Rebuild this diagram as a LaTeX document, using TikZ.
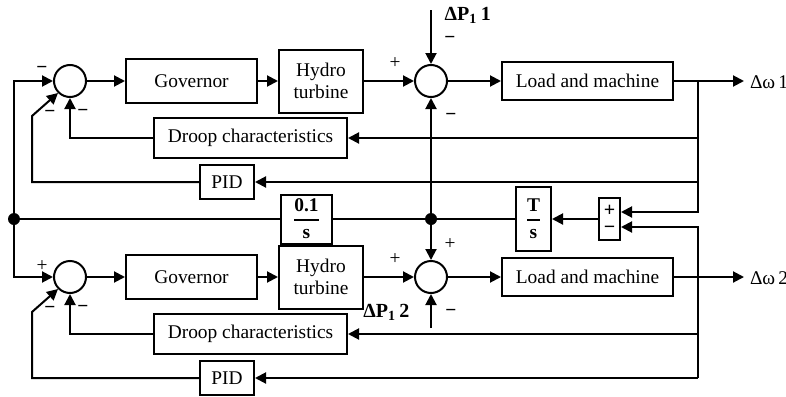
\documentclass[tikz,border=0pt]{standalone}
\usepackage{amsmath}
\usepackage{fontspec}
\setmainfont{Liberation Serif}
\usetikzlibrary{arrows.meta}
\newcommand{\mn}{\textbf{−}}
\begin{document}
\begin{tikzpicture}[x=0.5pt, y=-0.5pt, line width=1pt,
    font=\fontsize{9.7}{11}\selectfont,
    myblock/.style={draw, rectangle, inner sep=0pt, align=center},
    mysum/.style={draw, circle, minimum size=16pt, inner sep=0pt},
    myarrow/.style={-{Triangle[length=5.5pt,width=5.5pt]}},
    mysign/.style={inner sep=0pt}]
    \useasboundingbox (0,0) rectangle (786,396);

    % 绘制两个区域
    \foreach \n/\dy/\s in {1/0/\mn, 2/196/+} {
        \node[mysum] (sumA\n) at (70, 81+\dy) {};
        \node[myblock, minimum width=65.5pt, minimum height=22pt] (gov\n) at (191.5, 81+\dy) {Governor};
        \node[myblock, minimum width=42pt, minimum height=31.5pt] (hydro\n) at (321, 81+\dy) {Hydro\\turbine};
        \node[mysum] (sumB\n) at (431, 81+\dy) {};
        \node[myblock, minimum width=85.5pt, minimum height=19pt] (load\n) at (587.5, 81+\dy) {Load and machine};
        \node[myblock, minimum width=96.5pt, minimum height=20pt] (droop\n) at (250.5, 138+\dy) {Droop characteristics};
        \node[myblock, minimum width=27pt, minimum height=17pt] (pid\n) at (227, 182+\dy) {PID};

        % 前向通道
        \draw[myarrow] (sumA\n) -- (gov\n);
        \draw[myarrow] (gov\n) -- (hydro\n);
        \draw[myarrow] (hydro\n) -- (sumB\n);
        \draw[myarrow] (sumB\n) -- (load\n);
        \coordinate (out\n) at (744, 81+\dy);
        \draw[myarrow] (load\n) -- (out\n);
        \node[anchor=west, inner sep=0pt] (lab\n) at (749, 82+\dy) {Δω\,\n};

        % 反馈通道
        \coordinate (fd\n) at (698, 138+\dy);
        \draw[myarrow] (fd\n) -- (droop\n);
        \draw[myarrow] (droop\n.west) -| (sumA\n.south);
        \coordinate (fp\n) at (698, 182+\dy);
        \coordinate (kp\n) at (32, 116+\dy);
        \draw[myarrow] (fp\n) -- (pid\n);
        \draw[myarrow] (pid\n.west) -| (kp\n) -- (sumA\n.225);

        % 符号
        \node[mysign] (sa\n) at (42, 70+\dy) {\s};
        \node[mysign] (sb\n) at (50, 114+\dy) {\mn};
        \node[mysign] (sc\n) at (83, 113+\dy) {\mn};
        \node[mysign] (sd\n) at (395, 63+\dy) {+};
        \node[mysign] (sf\n) at (451, 117+\dy) {\mn};
    }

    % 中间联络线
    \node[myblock, minimum width=25.5pt, minimum height=24.5pt] (int) at (306.5, 219) {$\genfrac{}{}{1pt}{0}{\textbf{0.1}}{\textbf{s}}$};
    \node[myblock, minimum width=17.5pt, minimum height=32pt] (Ts) at (533.5, 219) {$\genfrac{}{}{1pt}{0}{\textbf{T}}{\textbf{s}}$};
    \node[myblock, minimum width=10.5pt, minimum height=21pt, font=\fontsize{10}{8.5}\selectfont\bfseries] (pm) at (609.5, 219) {+\\−};
    \coordinate (jL) at (14, 219);
    \coordinate (jR) at (431, 219);
    \draw[myarrow] (pm) -- (Ts);
    \draw (Ts) -- (jR) -- (int);
    \draw (int) -- (jL);
    \draw[myarrow] (jR) -- (sumB1);
    \draw[myarrow] (jR) -- (sumB2);
    \draw[myarrow] (jL) |- (sumA1);
    \draw[myarrow] (jL) |- (sumA2);
    \fill (jL) circle (3pt);
    \fill (jR) circle (3pt);

    % 频率偏差反馈到 +/- 
    \coordinate (t1) at (698, 81);
    \coordinate (t2) at (698, 212);
    \draw[myarrow] (t1) -- (t2) -- (t2 -| pm.east);
    \coordinate (b1) at (698, 378);
    \coordinate (b2) at (698, 227);
    \draw[myarrow] (b1) -- (b2) -- (b2 -| pm.east);

    % 负荷扰动
    \coordinate (dp1) at (431, 10);
    \draw[myarrow] (dp1) -- (sumB1);
    \node[anchor=west, font=\bfseries] (ldp1) at (437, 15) {ΔP\textsubscript{1}\,1};
    \node[mysign] (se1) at (450, 40) {\mn};
    \coordinate (dp2) at (431, 328);
    \draw[myarrow] (dp2) -- (sumB2);
    \node[anchor=east, font=\bfseries] (ldp2) at (417, 312) {ΔP\textsubscript{1}\,2};
    \node[mysign] (se2) at (450, 244) {+};
\end{tikzpicture}
\end{document}
